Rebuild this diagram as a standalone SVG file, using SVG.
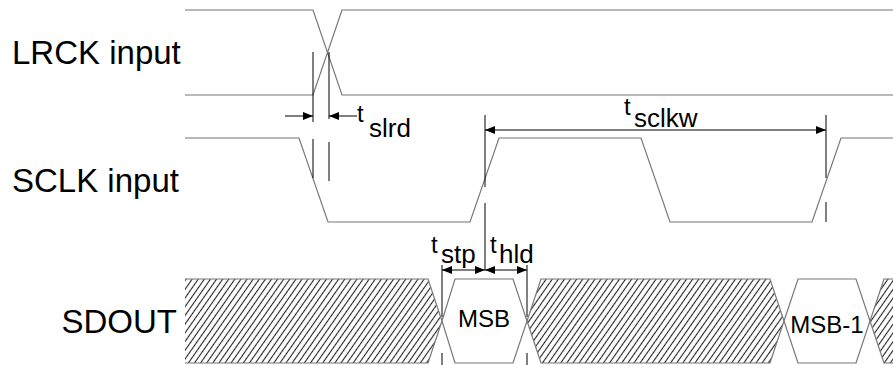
<svg xmlns="http://www.w3.org/2000/svg" width="893" height="365" viewBox="0 0 893 365">
<style>
  text { font-family: "Liberation Sans", Arial, sans-serif; fill: #000; }
  .lbl { font-size: 33px; }
  .t { font-size: 24px; }
  .sub { font-size: 26px; }
  .val { font-size: 24px; }
  .wave { fill: none; stroke: #777; stroke-width: 1.2; }
  .mark { fill: none; stroke: #000; stroke-width: 1; }
  .dim { fill: none; stroke: #000; stroke-width: 1; }
</style>
<defs>
  <pattern id="hatch" width="5" height="10" patternUnits="userSpaceOnUse" patternTransform="rotate(35)">
    <line x1="2.5" y1="0" x2="2.5" y2="10" stroke="#222" stroke-width="1.1"/>
  </pattern>
  <marker id="ah" viewBox="0 0 10 8" refX="10" refY="4" markerWidth="10" markerHeight="8" markerUnits="userSpaceOnUse" orient="auto-start-reverse">
    <path d="M0,0 L10,4 L0,8 Z" fill="#000"/>
  </marker>
</defs>
<rect width="893" height="365" fill="#fff"/>

<g id="lrck">
  <text class="lbl" x="12" y="64">LRCK input</text>
  <path class="wave" d="M185,10 H313 L342,95 H893 M185,95 H313 L342,10 H893"/>
</g>

<g id="sclk">
  <text class="lbl" x="12" y="192">SCLK input</text>
  <path class="wave" d="M185,138 H299 L328,222 H470 L499,138 H641 L670,222 H812 L841,138 H893"/>
</g>

<g id="sdout">
  <text class="lbl" x="177" y="333" text-anchor="end">SDOUT</text>
  <polygon points="185,279 428,279 442,321 428,363 185,363" fill="url(#hatch)"/>
  <polygon points="541,279 770,279 784,321 770,363 541,363 527,321" fill="url(#hatch)"/>
  <polygon points="884,279 893,279 893,363 884,363 870,321" fill="url(#hatch)"/>
  <path class="wave" d="M185,279 H428 L442,321 L428,363 H185"/>
  <polygon class="wave" points="442,321 455,279 513,279 527,321 513,363 455,363" fill="#fff"/>
  <polygon class="wave" points="541,279 770,279 784,321 770,363 541,363 527,321"/>
  <polygon class="wave" points="784,321 798,279 856,279 870,321 856,363 798,363" fill="#fff"/>
  <path class="wave" d="M893,279 H884 L870,321 L884,363 H893"/>
  <text class="val" x="484" y="327" text-anchor="middle">MSB</text>
  <text class="val" x="827" y="333" text-anchor="middle">MSB-1</text>
</g>

<g id="connectors">
  <path class="mark" d="M313,52 V122 M313,139 V178 M329,52 V119 M329,142 V181"/>
  <path class="mark" d="M485,115 V187 M485,203 V270 M826,115 V178 M826,202 V222"/>
  <path class="mark" d="M442,265 V317 M442,353 V365 M527,265 V317 M527,353 V365"/>
  <line class="dim" x1="285" y1="116" x2="313" y2="116" marker-end="url(#ah)"/>
  <line class="dim" x1="357" y1="116" x2="329" y2="116" marker-end="url(#ah)"/>
  <line class="dim" x1="485" y1="130" x2="826" y2="130" marker-start="url(#ah)" marker-end="url(#ah)"/>
  <line class="dim" x1="442" y1="270" x2="485" y2="270" marker-start="url(#ah)" marker-end="url(#ah)"/>
  <line class="dim" x1="485" y1="270" x2="527" y2="270" marker-start="url(#ah)" marker-end="url(#ah)"/>
</g>

<g id="labels">
  <text class="t" x="357" y="122">t</text><text class="sub" x="369" y="137">slrd</text>
  <text class="t" x="624" y="115">t</text><text class="sub" x="634" y="127">sclkw</text>
  <text class="t" x="431" y="253">t</text><text class="sub" x="441" y="263">stp</text>
  <text class="t" x="490" y="253">t</text><text class="sub" x="499" y="263">hld</text>
</g>
</svg>
